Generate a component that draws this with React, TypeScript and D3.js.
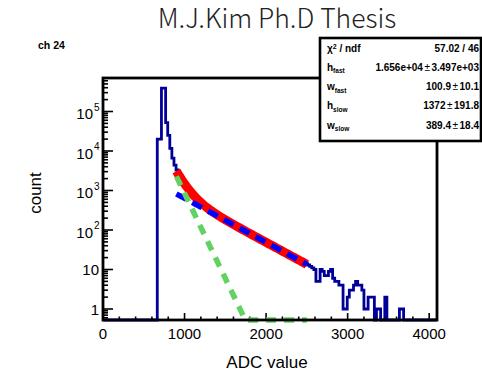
import React from "react";
import * as d3 from "d3";

const W = 482;
const H = 376;

const title = "M.J.Kim Ph.D Thesis";
const channelLabel = "ch 24";
const xTitle = "ADC value";
const yTitle = "count";

// histogram: 160 bins over 0..4096, counts listed from bin 26 onwards (others empty)
const nBins = 160;
const xLo = 0;
const xHi = 4096;
const firstBin = 26;
const counts = [
  20000, 20000, 390000, 390000, 52000, 25000, 11700, 6600, 4400, 3300,
  2400, 1950, 1620, 1390, 1150, 1010, 850, 760, 650, 590,
  510, 470, 410, 385, 340, 320, 285, 270, 245, 232,
  208, 199, 180, 172, 156, 150, 135, 131, 118, 115,
  103, 100, 90, 88, 78, 77, 69, 67, 60, 59,
  53, 52, 46, 45, 40, 40, 35, 35, 31, 30,
  27, 27, 24, 23, 21, 20, 18, 18, 16, 16,
  14, 14, 13, 12, 11, 10, 5, 5, 10, 9,
  7, 7, 9, 10, 6, 5, 5, 4, 4, 1,
  1, 2, 3, 3, 4, 5, 4, 4, 3, 1,
  1, 2, 2, 2, 0, 1, 1, 0, 0, 2,
  0, 0, 0, 0, 0, 0, 1, 1,
];

const xMajorTicks = [0, 1000, 2000, 3000, 4000];
const xMinorStep = 200;
const yDecadeExps = [0, 1, 2, 3, 4, 5];

// fit: h_fast*exp(-(x-x0)/w_fast) + h_slow*exp(-(x-x0)/w_slow)
const fitRange = [900, 2500];
const pedestal = 700;
const hFast = 1.656e4;
const wFast = 100.9;
const hSlow = 1372;
const wSlow = 389.4;

const statNames = [
  { base: "χ", sup: "2", rest: " / ndf" },
  { base: "h", sub: "fast" },
  { base: "w", sub: "fast" },
  { base: "h", sub: "slow" },
  { base: "w", sub: "slow" },
];
const statValues = [
  ["57.02 / 46"],
  ["1.656e+04", "3.497e+03"],
  ["100.9", "10.1"],
  ["1372", "191.8"],
  ["389.4", "18.4"],
];

const FL = 103, FR = 437, FT = 78, FB = 320;
const yMin = 0.5266;
const yMax = 7.05e5;

export default function App() {
  const x = d3.scaleLinear().domain([xLo, xHi]).range([FL, FR]);
  const y = d3.scaleLog().domain([yMin, yMax]).range([FB, FT]);
  const bw = (xHi - xLo) / nBins;

  // histogram path
  const binVals: number[] = d3.range(nBins).map((i) => {
    const k = i - firstBin;
    return k >= 0 && k < counts.length ? counts[k] : 0;
  });
  let hp = `M${x(xLo)},${FB}`;
  binVals.forEach((c, i) => {
    const yy = c > 0 ? y(c) : FB;
    hp += `L${x(xLo + i * bw)},${yy}L${x(xLo + (i + 1) * bw)},${yy}`;
  });
  hp += `L${x(xHi)},${FB}`;

  const xs = d3.range(0, 101).map((i) => fitRange[0] + ((fitRange[1] - fitRange[0]) * i) / 100);
  const fast = (v: number) => hFast * Math.exp(-(v - pedestal) / wFast);
  const slow = (v: number) => hSlow * Math.exp(-(v - pedestal) / wSlow);
  const line = d3
    .line<[number, number]>()
    .x((d) => x(d[0]))
    .y((d) => y(Math.max(d[1], yMin)));
  const totalPath = line(xs.map((v) => [v, fast(v) + slow(v)]))!;
  const fastPath = line(xs.map((v) => [v, fast(v)]))!;
  const slowPath = line(xs.map((v) => [v, slow(v)]))!;

  const xMinor = d3.range(xLo, xHi + 1, xMinorStep).filter((v) => v % 1000 !== 0);
  const yMinor: number[] = [];
  for (let e = -1; e <= 5; e++) {
    for (let m = 2; m <= 9; m++) {
      const v = m * Math.pow(10, e);
      if (v > yMin && v < yMax) yMinor.push(v);
    }
  }

  const font = "'Liberation Sans', Arial, Helvetica, sans-serif";
  const rowY = [52, 70.5, 90, 109, 128.5];

  return (
    <svg width={W} height={H} style={{ display: "block", position: "absolute", left: 0, top: 0 }}>
      <rect x={0} y={0} width={W} height={H} fill="#fff" />
      <defs>
        <clipPath id="frameClip">
          <rect x={FL} y={FT} width={FR - FL} height={FB - FT + 4} />
        </clipPath>
      </defs>

      {/* title */}
      <text
        x={277}
        y={28}
        textAnchor="middle"
        fontFamily="'Noto Sans CJK JP', 'Noto Sans', sans-serif"
        fontWeight={300}
        fontSize={26.5}
        fill="#222"
      >
        {title}
      </text>
      <text x={38} y={48.5} fontFamily={font} fontWeight="bold" fontSize={10.5} fill="#000">
        {channelLabel}
      </text>

      {/* axes ticks */}
      <g stroke="#000" strokeWidth={1.6}>
        {xMajorTicks.map((v) => (
          <line key={"xM" + v} x1={x(v)} x2={x(v)} y1={FB} y2={FB - 7} />
        ))}
        {xMinor.map((v) => (
          <line key={"xm" + v} x1={x(v)} x2={x(v)} y1={FB} y2={FB - 3.5} />
        ))}
        {yDecadeExps.map((e) => (
          <line key={"yM" + e} x1={FL} x2={FL + 10} y1={y(Math.pow(10, e))} y2={y(Math.pow(10, e))} />
        ))}
        {yMinor.map((v) => (
          <line key={"ym" + v} x1={FL} x2={FL + 5} y1={y(v)} y2={y(v)} />
        ))}
      </g>

      {/* x tick labels */}
      <g fontFamily={font} fontSize={15} fill="#000" textAnchor="middle">
        {xMajorTicks.map((v) => (
          <text key={"xl" + v} x={x(v)} y={339}>
            {v}
          </text>
        ))}
      </g>
      {/* y tick labels */}
      <g fontFamily={font} fill="#000" textAnchor="end">
        {yDecadeExps.map((e) => {
          const ty = y(Math.pow(10, e));
          if (e === 0)
            return (
              <text key={"yl" + e} x={99} y={ty + 6} fontSize={15}>
                1
              </text>
            );
          if (e === 1)
            return (
              <text key={"yl" + e} x={99} y={ty + 6} fontSize={15}>
                10
              </text>
            );
          return (
            <g key={"yl" + e}>
              <text x={93} y={ty + 7.5} fontSize={15}>
                10
              </text>
              <text x={99.5} y={ty - 1} fontSize={10}>
                {e}
              </text>
            </g>
          );
        })}
      </g>

      {/* axis titles */}
      <text x={267} y={368} textAnchor="middle" fontFamily={font} fontSize={17} fill="#000">
        {xTitle}
      </text>
      <text
        transform={`translate(41,193) rotate(-90)`}
        textAnchor="middle"
        fontFamily={font}
        fontSize={17}
        fill="#000"
      >
        {yTitle}
      </text>

      {/* data */}
      <g clipPath="url(#frameClip)">
        <path d={hp} fill="none" stroke="#000099" strokeWidth={2.8} />
        <path d={totalPath} fill="none" stroke="#ff0000" strokeWidth={9} />
        <path d={slowPath} fill="none" stroke="#0000ff" strokeWidth={5.5} strokeDasharray="11 7" />
        <path d={fastPath} fill="none" stroke="#62d262" strokeWidth={5.5} strokeDasharray="10 8" />
      </g>

      {/* frame */}
      <rect x={FL} y={FT} width={FR - FL} height={FB - FT} fill="none" stroke="#000" strokeWidth={2.8} />

      {/* stats box */}
      <rect x={320} y={38} width={161} height={103} fill="#fff" stroke="#000" strokeWidth={2.6} />
      <g fontFamily={font} fontWeight="bold" fill="#000">
        {statNames.map((s, i) => (
          <text key={"sn" + i} x={327} y={rowY[i]} fontSize={10}>
            {s.base}
            {s.sup ? (
              <tspan fontSize={7} dy={-3.5}>
                {s.sup}
              </tspan>
            ) : null}
            {s.rest ? <tspan dy={3.5}>{s.rest}</tspan> : null}
            {s.sub ? (
              <tspan fontSize={6.5} dy={2.5}>
                {s.sub}
              </tspan>
            ) : null}
          </text>
        ))}
        {statValues.map((v, i) => (
          <text key={"sv" + i} x={479} y={rowY[i]} fontSize={10} textAnchor="end">
            {v.length === 1 ? (
              v[0]
            ) : (
              <>
                {v[0]}
                <tspan fontWeight="normal" dx={1.5}>±</tspan>
                <tspan dx={1.5}>{v[1]}</tspan>
              </>
            )}
          </text>
        ))}
      </g>
    </svg>
  );
}
